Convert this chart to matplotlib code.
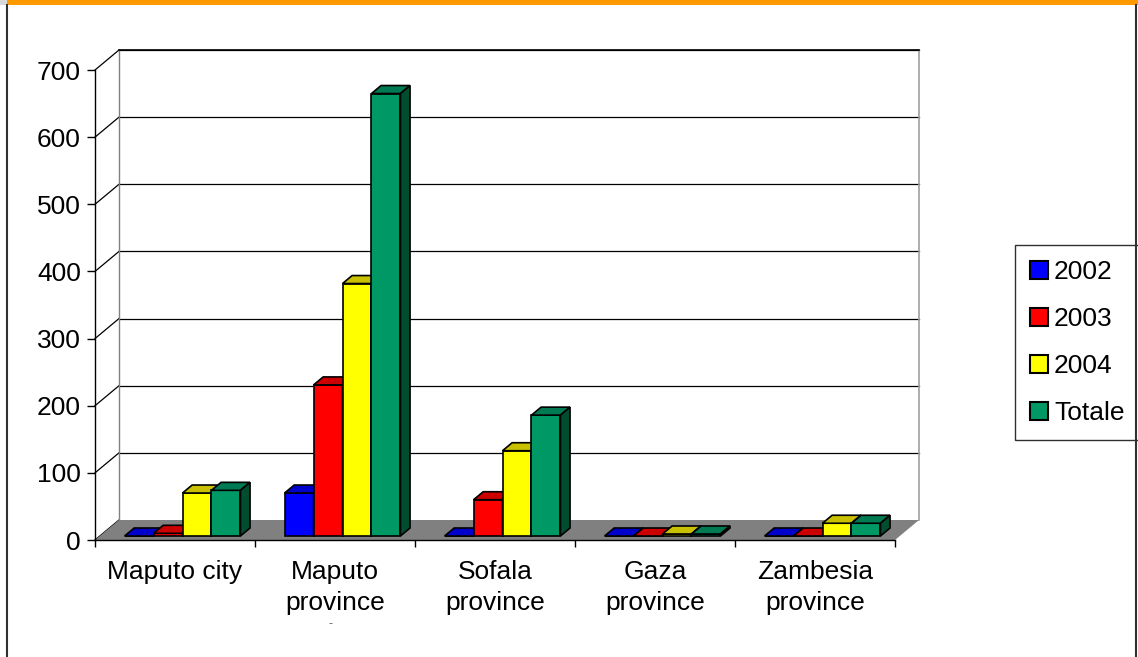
import matplotlib
matplotlib.use("Agg")
import matplotlib.pyplot as plt
from matplotlib.patches import Polygon, Rectangle, Patch
from matplotlib.lines import Line2D

plt.rcParams['font.family'] = ['Liberation Sans', 'DejaVu Sans']

# ---- data -------------------------------------------------------------
categories = ["Maputo city", "Maputo\nprovince", "Sofala\nprovince",
              "Gaza\nprovince", "Zambesia\nprovince"]
series = ["2002", "2003", "2004", "Totale"]
values_2002 = [0, 64, 0, 0, 0]
values_2003 = [4, 225, 54, 0, 0]
values_2004 = [64, 376, 127, 3, 19]
values_tot = [68, 659, 180, 3, 19]
y_ticks = [0, 100, 200, 300, 400, 500, 600, 700]

series_values = [values_2002, values_2003, values_2004, values_tot]

# face colours per series: front, top, side
front_cols = ["#0000FF", "#FF0000", "#FFFF00", "#009966"]
top_cols = ["#0000CC", "#CC0000", "#C8C000", "#007A52"]
side_cols = ["#000099", "#990000", "#999900", "#004D30"]

# ---- figure / axes ------------------------------------------------------
W, H = 1138, 657
fig = plt.figure(figsize=(W / 100, H / 100), dpi=100)
fig.patch.set_facecolor("white")

ax = fig.add_axes([95 / W, (H - 540) / H, 800 / W, 470 / H])
ymax = y_ticks[-1]
ncat = len(categories)
ax.set_xlim(0, ncat)
ax.set_ylim(0, ymax)
ax.patch.set_visible(False)

# depth of the 3-D box (in data units)
DX = 24 / 160.0
DY = 20 / (470.0 / ymax)


def proj(x, y, d):
    return (x + d * DX, y + d * DY)


# floor
floor = Polygon([proj(0, 0, 0), proj(ncat, 0, 0), proj(ncat, 0, 1), proj(0, 0, 1)],
                closed=True, fc="#808080", ec="none", zorder=1, clip_on=False)
ax.add_patch(floor)

# back wall gridlines and side-wall diagonals
for v in y_ticks:
    if v > 0:
        xs, ys = zip(proj(0, v, 1), proj(ncat, v, 1))
        ax.add_line(Line2D(xs, ys, color="black", lw=0.9, zorder=0.5, clip_on=False))
    xs, ys = zip(proj(0, v, 0), proj(0, v, 1))
    ax.add_line(Line2D(xs, ys, color="black", lw=0.9, zorder=0.5, clip_on=False))
# wall edges
xs, ys = zip(proj(0, 0, 1), proj(0, ymax, 1))
ax.add_line(Line2D(xs, ys, color="#808080", lw=1.0, zorder=0.5, clip_on=False))
xs, ys = zip(proj(ncat, 0, 1), proj(ncat, ymax, 1))
ax.add_line(Line2D(xs, ys, color="#A0A0A0", lw=1.2, zorder=0.5, clip_on=False))
xs, ys = zip(proj(0, ymax, 1), proj(ncat, ymax, 1))
ax.add_line(Line2D(xs, ys, color="black", lw=1.2, zorder=0.5, clip_on=False))

# ---- 3-D bars -----------------------------------------------------------
BAR_START = 0.155
BAR_W = 0.181
D0, D1 = 0.2, 0.6
z = 2
for i in range(ncat):
    for j, vals in enumerate(series_values):
        v = vals[i]
        x0 = i + BAR_START + j * BAR_W
        x1 = x0 + BAR_W
        front = [proj(x0, 0, D0), proj(x1, 0, D0), proj(x1, v, D0), proj(x0, v, D0)]
        top = [proj(x0, v, D0), proj(x1, v, D0), proj(x1, v, D1), proj(x0, v, D1)]
        side = [proj(x1, 0, D0), proj(x1, 0, D1), proj(x1, v, D1), proj(x1, v, D0)]
        for pts, col in ((front, front_cols[j]), (top, top_cols[j]), (side, side_cols[j])):
            ax.add_patch(Polygon(pts, closed=True, fc=col, ec="black", lw=1.2,
                                 joinstyle="miter", zorder=z, clip_on=False))
        z += 1

# ---- axes styling -------------------------------------------------------
for s in ("top", "right"):
    ax.spines[s].set_visible(False)
for s in ("left", "bottom"):
    ax.spines[s].set_color("black")
    ax.spines[s].set_linewidth(1.0)
    ax.spines[s].set_zorder(1.5)

ax.set_yticks(y_ticks)
ax.set_yticklabels([str(t) for t in y_ticks])
ax.tick_params(axis="y", length=5.8, width=1, pad=4.3, labelsize=19, colors="black")

ax.set_xticks(range(ncat + 1))
ax.set_xticklabels([""] * (ncat + 1))
ax.tick_params(axis="x", which="major", length=5.2, width=1, colors="black")
ax.set_xticks([i + 0.5 for i in range(ncat)], minor=True)
ax.set_xticklabels(categories, minor=True, fontsize=19, linespacing=1.38)
ax.tick_params(axis="x", which="minor", length=0, pad=14.5)

ax.text(1.47, -125, "-", fontsize=9, color="#606060", ha="center", va="center",
        clip_on=False)

# ---- legend -------------------------------------------------------------
handles = [Patch(fc=c, ec="black", lw=1.5) for c in front_cols]
leg = ax.legend(handles, series, loc="upper left",
                bbox_to_anchor=(1015 / W, 1 - 245 / H), bbox_transform=fig.transFigure,
                frameon=True, fancybox=False, framealpha=1, fontsize=19,
                handlelength=0.68, handleheight=0.68, handletextpad=0.22,
                labelspacing=0.87, borderpad=0.58, borderaxespad=0)
leg.get_frame().set_edgecolor("#303030")
leg.get_frame().set_linewidth(1.0)

# ---- outer frame --------------------------------------------------------
fig.add_artist(Rectangle((7 / W, 1 - 5 / H), (W - 7) / W, 5 / H, fc="#FF9900", ec="none",
                         transform=fig.transFigure))
fig.add_artist(Rectangle((0, 1 - 5 / H), 7 / W, 5 / H, fc="#D8D8D8", ec="none",
                         transform=fig.transFigure))
fig.add_artist(Line2D([7 / W, 7 / W], [0, 1 - 5 / H], color="#303030", lw=1.5,
                      transform=fig.transFigure))
fig.add_artist(Line2D([1136 / W, 1136 / W], [0, 1 - 5 / H], color="#303030", lw=1.5,
                      transform=fig.transFigure))

fig.savefig("out.png", dpi=100)
